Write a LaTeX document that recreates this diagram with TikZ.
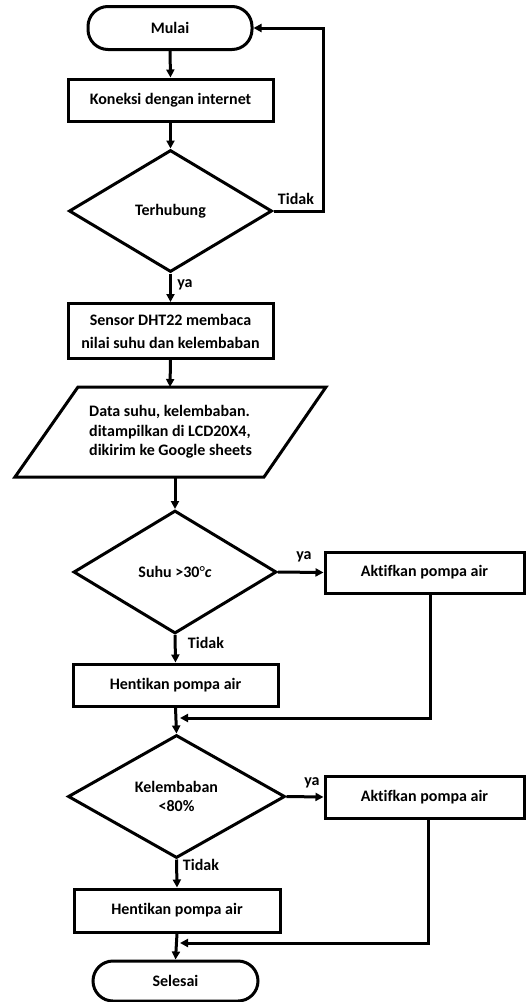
\documentclass[tikz,border=0pt]{standalone}
\usepackage{fontspec}
\setmainfont{Carlito}[Ligatures=NoCommon]
\usetikzlibrary{arrows.meta,shapes.geometric}
\begin{document}
\begin{tikzpicture}[x=1pt,y=-1pt,
  font=\fontsize{16}{19.5}\selectfont\bfseries,
  every node/.style={inner sep=0pt},
  line/.style={line width=3pt},
  arr/.style={line width=3pt,-{Triangle[length=8pt,width=8pt]}},
  procbox/.style={draw,line width=3pt,rectangle,align=center},
  termbox/.style={draw,line width=3pt,rectangle,rounded corners=20pt},
  decbox/.style={draw,line width=3pt,diamond,align=center},
  lbl/.style={font=\fontsize{16}{19}\selectfont\bfseries}]
\useasboundingbox (0,0) rectangle (526,1002);
% nodes
\node[termbox,minimum width=164pt,minimum height=43pt] (mulai) at (170,28) {Mulai};
\node[procbox,minimum width=205pt,minimum height=42pt] (kon) at (170.5,100) {Koneksi dengan internet};
\node[decbox,minimum width=203pt,minimum height=122pt] (terh) at (170.5,211) {Terhubung};
\node[procbox,minimum width=205pt,minimum height=55pt,font=\fontsize{16}{23}\selectfont\bfseries] (sens) at (170.5,331) {Sensor DHT22 membaca\\nilai suhu dan kelembaban};
\coordinate (pTL) at (78,387);
\coordinate (pTR) at (326,387);
\coordinate (pBR) at (264,477);
\coordinate (pBL) at (15,477);
\draw[line,line join=miter] (pTL) -- (pTR) -- (pBR) -- (pBL) -- cycle;
\coordinate (pin) at (170,387);
\coordinate (pout) at (175,477);
\node[align=left,anchor=west] (ptext) at (89,432) {Data suhu, kelembaban.\\ditampilkan di LCD20X4,\\dikirim ke Google sheets};
\node[decbox,minimum width=203pt,minimum height=123pt] (suhu) at (175,572) {Suhu >30{\normalfont°}{\itshape c}};
\node[procbox,minimum width=199pt,minimum height=41pt] (akt1) at (424.5,572.5) {Aktifkan pompa air};
\node[procbox,minimum width=205pt,minimum height=42pt] (hen1) at (175.5,685) {Hentikan pompa air};
\coordinate (m1) at (180,718);
\node[decbox,minimum width=217pt,minimum height=123pt] (kel) at (176.5,796.5) {Kelembaban\\<80\%};
\node[procbox,minimum width=199pt,minimum height=42pt] (akt2) at (424.5,797) {Aktifkan pompa air};
\node[procbox,minimum width=206pt,minimum height=43pt] (hen2) at (177,910.5) {Hentikan pompa air};
\coordinate (m2) at (180,943);
\node[termbox,minimum width=165pt,minimum height=40pt] (sel) at (175.5,981) {Selesai};
% labels
\node[lbl] (t1) at (296,199) {Tidak};
\node[lbl] (y1) at (185,285) {ya};
\node[lbl] (y2) at (304,557) {ya};
\node[lbl] (t2) at (206,643) {Tidak};
\node[lbl] (y3) at (312,783) {ya};
\node[lbl] (t3) at (201,865) {Tidak};
% connectors
\draw[arr] (mulai.south) -- (kon.north);
\draw[arr] (kon.south) -- (terh.north);
\draw[arr] (terh.east) -- ++(50,0) |- (mulai.east);
\draw[arr] (terh.south) -- (sens.north);
\draw[arr] (sens.south) -- (pin);
\draw[arr] (pout) -- (suhu.north);
\draw[arr] (suhu.east) -- (akt1.west);
\draw[arr] (suhu.south) -- (hen1.north);
\draw[arr] (hen1.south) -- (kel.north);
\draw[arr] ([xshift=5.5pt]akt1.south) |- (m1);
\draw[arr] (kel.east) -- (akt2.west);
\draw[arr] (kel.south) -- (hen2.north);
\draw[arr] (hen2.south) -- (sel.north);
\draw[arr] ([xshift=4pt]akt2.south) |- (m2);
\end{tikzpicture}
\end{document}
